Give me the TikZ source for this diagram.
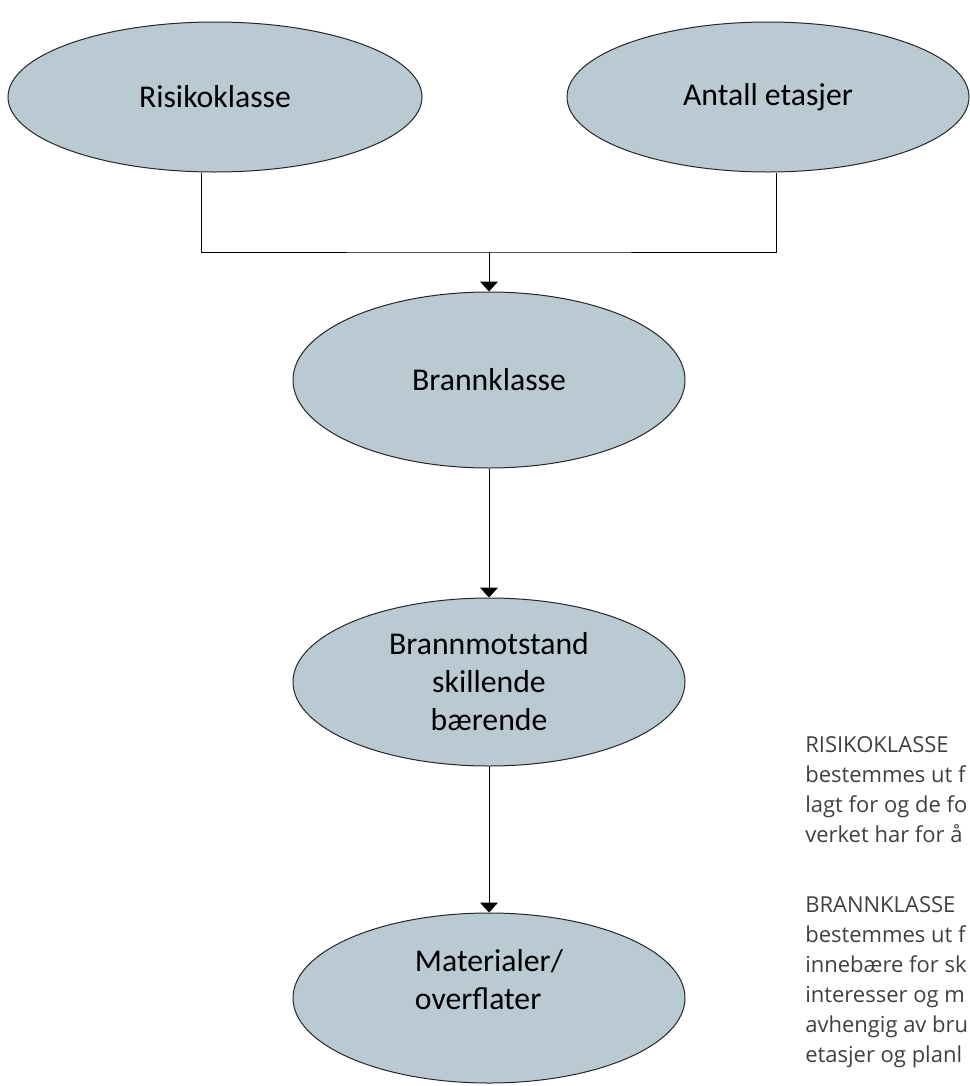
\documentclass[tikz,border=0pt]{standalone}
\usepackage{fontspec}
\setmainfont{Carlito}
\newfontfamily\notefont{Open Sans}
\usetikzlibrary{shapes,arrows.meta}
\definecolor{boks}{HTML}{B9CAD3}
\newdimen\px \px=0.75pt

\begin{document}
\begin{tikzpicture}[x=0.75pt,y=-0.75pt]
\tikzstyle{oval}=[draw=black!85,fill=boks,ellipse,inner sep=0pt,line width=0.75pt,align=center,font=\fontsize{23.8}{28.5}\selectfont]
\tikzstyle{arr}=[-{Triangle[width=13.5pt,length=7.5pt]},line width=0.75pt]
\tikzstyle{note}=[inner sep=0pt,align=left,text=black!75,font=\notefont\fontsize{16.5}{22.5}\selectfont]
\useasboundingbox (0,0) rectangle (970,1086);
\clip (0,0) rectangle (970,1086);
\node [oval,minimum width=414\px,minimum height=150\px] (risiko) at (215,97) {Risikoklasse};
\node [oval,minimum width=402\px,minimum height=150\px] (antall) at (768,97) {Antall etasjer};
\node [oval,minimum width=392\px,minimum height=176\px] (brann) at (489,380) {Brannklasse};
\node [oval,minimum width=392\px,minimum height=168\px] (motstand) at (489,682) {Brannmotstand\\skillende\\bærende};
\node [oval,minimum width=392\px,minimum height=170\px,align=left] (material) at (489,998) {Materialer/\\overflater\\\mbox{}};
% text til hoyre
\node [note,anchor=base west] (risikotxt) at (805,842) {RISIKOKLASSE\\bestemmes ut f\\lagt for og de fo\\verket har for å};
\node [note,anchor=base west] (branntxt) at (805,1062) {BRANNKLASSE\\bestemmes ut f\\innebære for sk\\interesser og m\\avhengig av bru\\etasjer og planl};
% piler
\coordinate (join) at (489,252);
\coordinate (lline) at (201,0);
\coordinate (rline) at (776,0);
\draw [line width=0.75pt] (risiko.south -| lline) |- (join) -| (antall.south -| rline);
\draw [arr] (join) -- (brann);
\draw [arr] (brann) -- (motstand);
\draw [arr] (motstand) -- (material);
\end{tikzpicture}
\end{document}
